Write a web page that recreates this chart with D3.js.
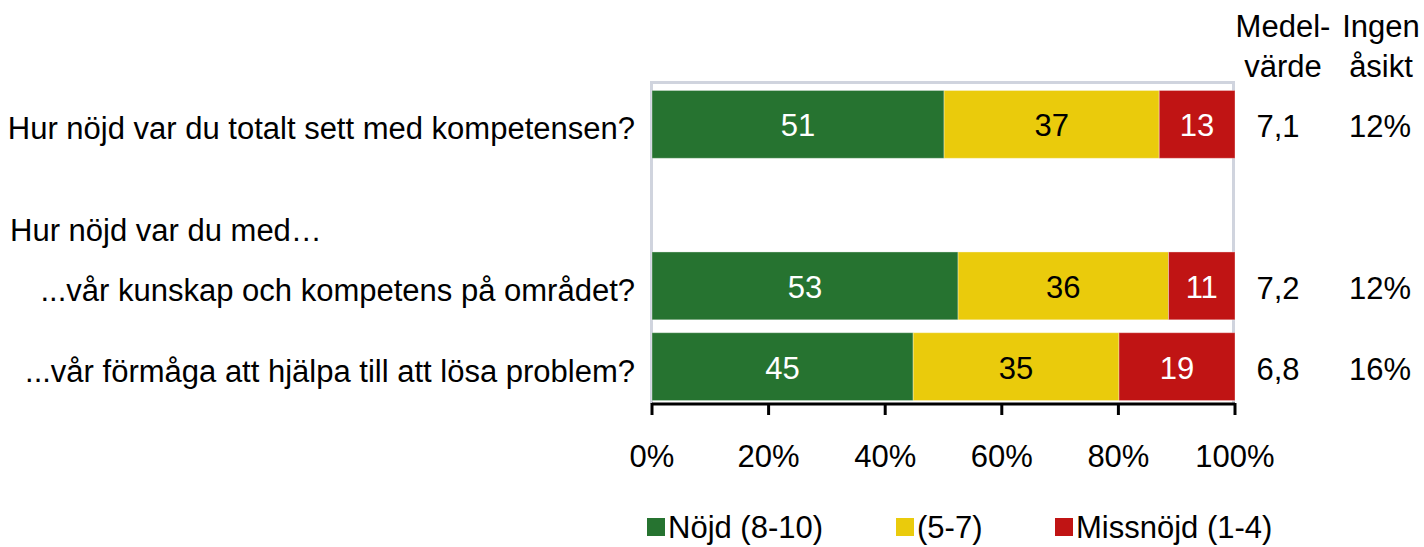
<!DOCTYPE html>
<html>
<head>
<meta charset="utf-8">
<script src="https://cdn.jsdelivr.net/npm/d3@7"></script>
<style>
  body { margin: 0; background: #fff; }
  svg { display: block; font-family: "Liberation Sans", Arial, sans-serif; }
</style>
</head>
<body>
<svg class="chart" width="1424" height="547"></svg>
<script>
const questions = [
  "Hur nöjd var du totalt sett med kompetensen?",
  "Hur nöjd var du med…",
  "...vår kunskap och kompetens på området?",
  "...vår förmåga att hjälpa till att lösa problem?"
];
const groupHeader = "Hur nöjd var du med…";
const seriesNames = ["Nöjd (8-10)", "(5-7)", "Missnöjd (1-4)"];
// bar shares (as drawn) and the labels printed on them
const nojd   = [50.1, null, 52.5, 44.8];
const mellan = [36.9, null, 36.1, 35.3];
const missn  = [13.0, null, 11.4, 19.9];
const nojdLab   = [51, null, 53, 45];
const mellanLab = [37, null, 36, 35];
const missnLab  = [13, null, 11, 19];
const medel = ["7,1", null, "7,2", "6,8"];
const ingen = ["12%", null, "12%", "16%"];
const ticks = [0, 20, 40, 60, 80, 100];

const colors = ["#267330", "#EACB0C", "#C01414"];
const labColors = ["#fff", "#000", "#fff"];
const fs = 31;

const svg = d3.select('svg.chart');

const x = d3.scaleLinear().domain([0, 100]).range([652, 1235]);
const y = d3.scaleBand().domain(questions).range([84, 407])
            .paddingInner(0.16).paddingOuter(0.08);

const rows = questions.map((q, i) => ({
  q, vals: [nojd[i], mellan[i], missn[i]], labs: [nojdLab[i], mellanLab[i], missnLab[i]],
  medel: medel[i], ingen: ingen[i]
})).filter(d => d.vals[0] !== null);

const stack = d3.stack().keys([0, 1, 2]).value((d, k) => d.vals[k]);
const series = stack(rows);

// plot area frame (left, top, right)
svg.append('path')
  .attr('d', `M${x(0) - 0.5},404V82.5H${x(100) - 1.5}V404`)
  .attr('stroke', '#D0D4DE').attr('stroke-width', 3).attr('fill', 'none');

// bars
series.forEach((s, k) => {
  const g = svg.append('g');
  g.selectAll('rect')
    .data(s)
    .enter()
    .append('rect')
    .attr('x', d => x(d[0]))
    .attr('width', d => x(d[1]) - x(d[0]))
    .attr('y', d => y(d.data.q))
    .attr('height', y.bandwidth())
    .attr('fill', colors[k])
    .attr('stroke', 'rgba(255,255,255,0.35)')
    .attr('stroke-width', 1);
  g.selectAll('text')
    .data(s)
    .enter()
    .append('text')
    .attr('x', d => (x(d[0]) + x(d[1])) / 2)
    .attr('y', d => y(d.data.q) + y.bandwidth() / 2 + 12)
    .attr('text-anchor', 'middle')
    .attr('font-size', fs)
    .attr('fill', labColors[k])
    .text(d => d.data.labs[k]);
});

// x axis
const axis = svg.append('g').attr('transform', 'translate(0,404)');
axis.append('line')
  .attr('x1', x(0)).attr('x2', x(100))
  .attr('stroke', '#000').attr('stroke-width', 3);
axis.selectAll('line.tick')
  .data(ticks)
  .enter()
  .append('line')
  .attr('class', 'tick')
  .attr('x1', d => x(d)).attr('x2', d => x(d))
  .attr('y1', -1).attr('y2', 11)
  .attr('stroke', '#000').attr('stroke-width', 3);
axis.selectAll('text')
  .data(ticks)
  .enter()
  .append('text')
  .attr('x', d => x(d))
  .attr('y', 63)
  .attr('text-anchor', 'middle')
  .attr('font-size', fs)
  .text(d => d + '%');

// row labels
svg.append('g').selectAll('text')
  .data(questions)
  .enter()
  .append('text')
  .attr('x', d => d === groupHeader ? 10 : 635)
  .attr('y', d => d === groupHeader ? y(d) + y.bandwidth() / 2 + 36 : y(d) + y.bandwidth() / 2 + 15)
  .attr('text-anchor', d => d === groupHeader ? 'start' : 'end')
  .attr('font-size', fs)
  .text(d => d);

// side columns
const cols = [
  {x: 1283, head: ["Medel-", "värde"], key: 'medel', vx: 1278},
  {x: 1381, head: ["Ingen", "åsikt"], key: 'ingen', vx: 1380}
];
cols.forEach(c => {
  svg.append('text')
    .attr('x', c.x).attr('y', 37)
    .attr('text-anchor', 'middle').attr('font-size', fs)
    .selectAll('tspan')
    .data(c.head)
    .enter()
    .append('tspan')
    .attr('x', c.x)
    .attr('dy', (d, i) => i == 0 ? 0 : 40)
    .text(d => d);
  svg.append('g').selectAll('text')
    .data(rows)
    .enter()
    .append('text')
    .attr('x', c.vx)
    .attr('y', d => y(d.q) + y.bandwidth() / 2 + 13)
    .attr('text-anchor', 'middle')
    .attr('font-size', fs)
    .text(d => d[c.key]);
});

// legend
const legX = [647, 896, 1055];
const leg = svg.append('g').selectAll('g')
  .data(seriesNames)
  .enter()
  .append('g')
  .attr('transform', (d, i) => `translate(${legX[i]},527)`);
leg.append('rect')
  .attr('x', 0).attr('y', -9)
  .attr('width', 18).attr('height', 18)
  .attr('fill', (d, i) => colors[i]);
leg.append('text')
  .attr('x', 21).attr('y', 11)
  .attr('font-size', fs)
  .text(d => d);
</script>
</body>
</html>
